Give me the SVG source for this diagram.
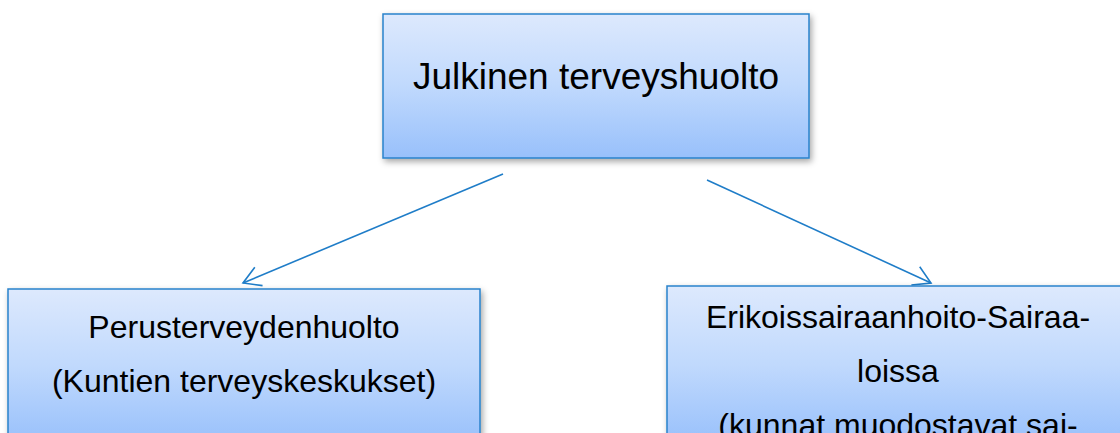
<svg xmlns="http://www.w3.org/2000/svg" width="1120" height="433" viewBox="0 0 1120 433">
<style>
.box{fill:url(#g);stroke:#2a82cc;stroke-width:1.5;filter:url(#sh)}
.t{font-family:"Liberation Sans",Arial,sans-serif;fill:#000;text-anchor:middle}
.c{stroke:#1f7dc8;stroke-width:1.6;fill:none;marker-end:url(#ah)}
</style>
<defs>
<linearGradient id="g" x1="0" y1="0" x2="0" y2="1">
<stop offset="0" stop-color="#dde9fd"/>
<stop offset="0.5" stop-color="#c0d9fd"/>
<stop offset="1" stop-color="#98c0fb"/>
</linearGradient>
<filter id="sh" x="-10%" y="-10%" width="125%" height="130%">
<feDropShadow dx="2" dy="3" stdDeviation="3" flood-color="#000" flood-opacity="0.35"/>
</filter>
<marker id="ah" markerUnits="userSpaceOnUse" viewBox="-20 -12 22 24" refX="0" refY="0" markerWidth="22" markerHeight="24" orient="auto">
<path d="M-17,-10 L0,0 L-17,10" fill="none" stroke="#1f7dc8" stroke-width="1.6"/>
</marker>
</defs>
<g id="connectors">
<line class="c" x1="503" y1="174" x2="243" y2="283"/>
<line class="c" x1="707" y1="180" x2="931" y2="283"/>
</g>
<g id="node-julkinen">
<rect class="box" x="383" y="14" width="426" height="144"/>
<text class="t" x="596" y="89" font-size="37">Julkinen terveyshuolto</text>
</g>
<g id="node-perus">
<rect class="box" x="8" y="289" width="472" height="155"/>
<text class="t" x="244" y="338" font-size="32">Perusterveydenhuolto</text>
<text class="t" x="244" y="392" font-size="32">(Kuntien terveyskeskukset)</text>
</g>
<g id="node-erikois">
<rect class="box" x="667" y="286" width="462" height="158"/>
<text class="t" x="898" y="328" font-size="32">Erikoissairaanhoito-Sairaa-</text>
<text class="t" x="898" y="382" font-size="32">loissa</text>
<text class="t" x="898" y="436" font-size="32">(kunnat muodostavat sai-</text>
</g>
</svg>
